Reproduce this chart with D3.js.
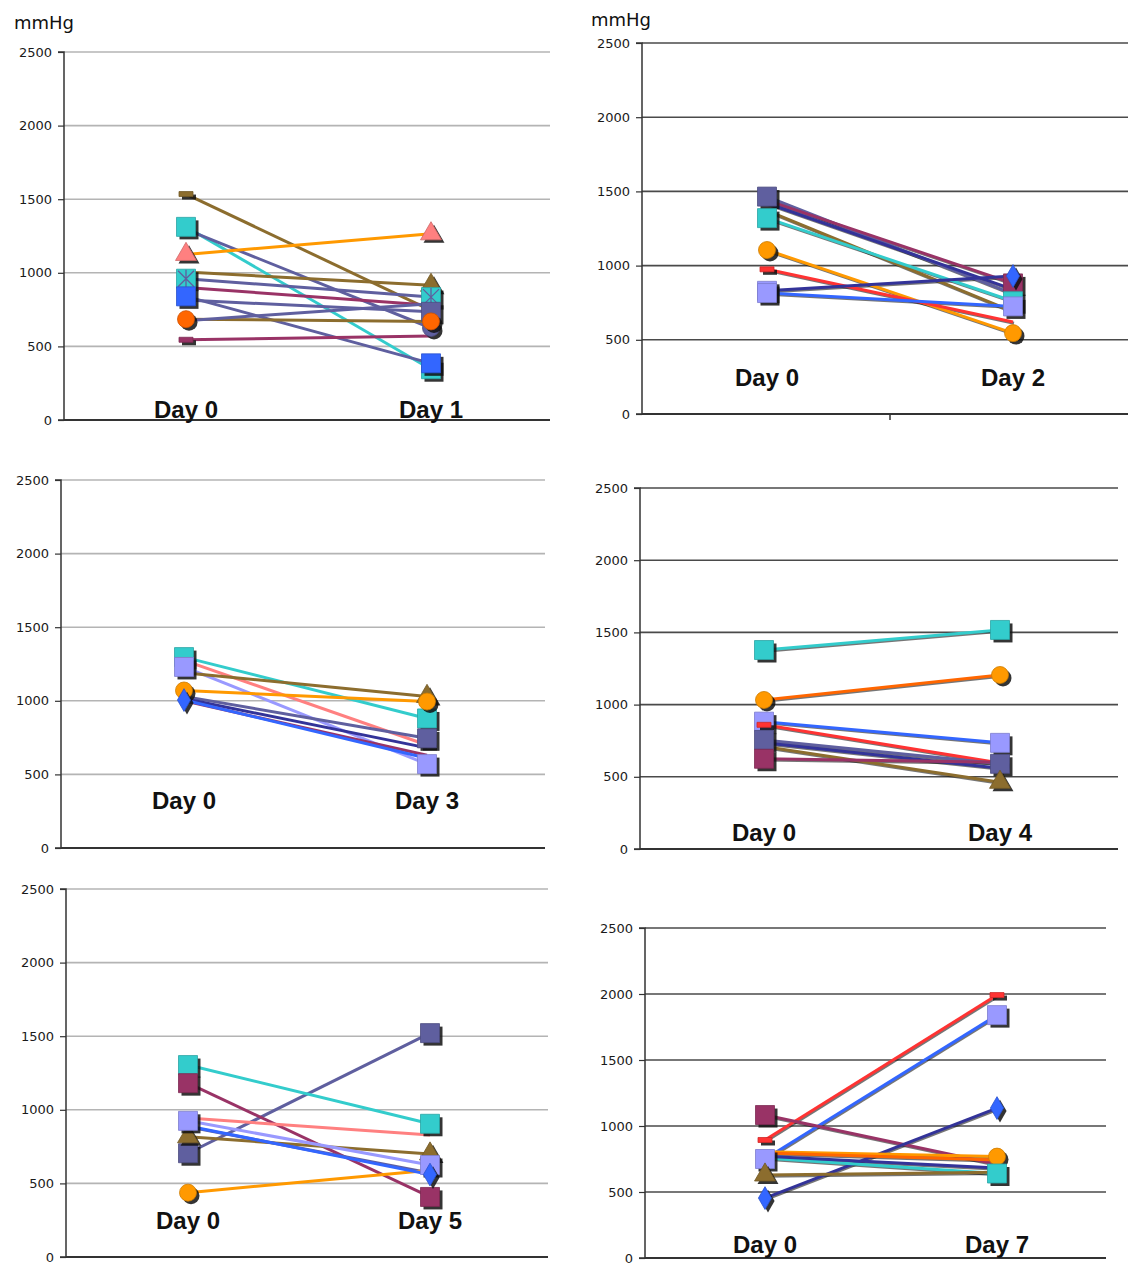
<!DOCTYPE html>
<html>
<head>
<meta charset="utf-8">
<script src="https://cdn.jsdelivr.net/npm/d3@7"></script>
<style>
  html, body { margin: 0; padding: 0; background: #fff; }
  svg { display: block; }
</style>
</head>
<body>
<div id="chart"></div>
<script>
// y axis ticks, shared by all panels
const yTicks = [0, 500, 1000, 1500, 2000, 2500];

// panel 1: Day 0 -> Day 1
const p1Days = ["Day 0", "Day 1"];
const p1Start = [1535, 1312, 1295, 1125, 1005, 960, 900, 840, 815, 685, 675, 545];
const p1End = [745, 345, 625, 1265, 915, 835, 780, 385, 735, 670, 790, 570];

// panel 2: Day 0 -> Day 2
const p2Days = ["Day 0", "Day 2"];
const p2Start = [1465, 1440, 1420, 1370, 1320, 1105, 975, 830, 815];
const p2End = [810, 880, 840, 690, 760, 545, 620, 930, 725];

// panel 3: Day 0 -> Day 3
const p3Days = ["Day 0", "Day 3"];
const p3Start = [1297, 1275, 1230, 1190, 1070, 1030, 1015, 1000, 1005];
const p3End = [880, 700, 570, 1030, 995, 745, 680, 630, 610];

// panel 4: Day 0 -> Day 4
const p4Days = ["Day 0", "Day 4"];
const p4Start = [1378, 1032, 882, 860, 755, 735, 710, 625];
const p4End = [1517, 1205, 735, 595, 590, 560, 462, 600];

// panel 5: Day 0 -> Day 5
const p5Days = ["Day 0", "Day 5"];
const p5Start = [705, 1304, 1181, 944, 817, 925, 885, 437, 890];
const p5End = [1521, 905, 408, 828, 700, 625, 570, 590, 560];

// panel 6: Day 0 -> Day 7
const p6Days = ["Day 0", "Day 7"];
const p6Start = [894, 750, 1083, 454, 805, 795, 758, 770, 629];
const p6End = [1992, 1840, 710, 1136, 768, 742, 640, 682, 650];

// series look: [line colour, start marker, start fill, end marker, end fill]
const C = {
  brown: "#8c6d2e", cyan: "#33cccc", slate: "#5f5f9f", orange: "#ff9900",
  salmon: "#ff8080", crimson: "#993366", blue: "#3366ff", periw: "#9999ff",
  red: "#ff3333", navy: "#333399", ored: "#ff6600"
};
const p1Style = [
  [C.brown, "dash", C.brown, "none"], [C.cyan, "sq", C.cyan, "sq", C.cyan],
  [C.slate, "none", null, "ci", C.slate], [C.orange, "tr", C.salmon, "tr", C.salmon],
  [C.brown, "none", null, "tr", C.brown], [C.slate, "xsq", C.cyan, "xsq", C.cyan],
  [C.crimson, "none", null, "none"], [C.slate, "sq", C.blue, "sq", C.blue],
  [C.slate, "none", null, "sq", C.slate], [C.brown, "ci", C.ored, "ci", C.ored],
  [C.slate, "none", null, "none"], [C.crimson, "dash", C.crimson, "none"]
];
const p2Style = [
  [C.slate, "sq", C.slate, "none"], [C.crimson, "none", null, "sq", C.crimson],
  [C.navy, "none", null, "none"], [C.brown, "none", null, "none"],
  [C.cyan, "sq", C.cyan, "sq", C.cyan], [C.orange, "ci", C.orange, "ci", C.orange],
  [C.red, "dash", C.red, "none"], [C.navy, "sq", C.periw, "di", C.blue],
  [C.blue, "sq", C.periw, "sq", C.periw]
];
const p3Style = [
  [C.cyan, "sq", C.cyan, "sq", C.cyan], [C.salmon, "dash", C.salmon, "dash", C.salmon],
  [C.periw, "sq", C.periw, "sq", C.periw], [C.brown, "none", null, "tr", C.brown],
  [C.orange, "ci", C.orange, "ci", C.orange], [C.slate, "none", null, "sq", C.slate],
  [C.navy, "none", null, "none"], [C.crimson, "none", null, "none"],
  [C.blue, "di", C.blue, "none"]
];
const p4Style = [
  [C.cyan, "sq", C.cyan, "sq", C.cyan], [C.ored, "ci", C.orange, "ci", C.orange],
  [C.blue, "sq", C.periw, "sq", C.periw], [C.red, "dash", C.red, "dash", C.red],
  [C.slate, "sq", C.slate, "sq", C.slate], [C.navy, "none", null, "none"],
  [C.brown, "none", null, "tr", C.brown], [C.crimson, "sq", C.crimson, "none"]
];
const p5Style = [
  [C.slate, "sq", C.slate, "sq", C.slate], [C.cyan, "sq", C.cyan, "sq", C.cyan],
  [C.crimson, "sq", C.crimson, "sq", C.crimson], [C.salmon, "dash", C.salmon, "none"],
  [C.brown, "tr", C.brown, "tr", C.brown], [C.periw, "sq", C.periw, "sq", C.periw],
  [C.slate, "none", null, "none"], [C.orange, "ci", C.orange, "none"],
  [C.blue, "none", null, "di", C.blue]
];
const p6Style = [
  [C.red, "dash", C.red, "dash", C.red], [C.blue, "sq", C.periw, "sq", C.periw],
  [C.crimson, "sq", C.crimson, "none"], [C.navy, "di", C.blue, "di", C.blue],
  [C.orange, "none", null, "ci", C.orange], [C.ored, "none", null, "none"],
  [C.cyan, "none", null, "sq", C.cyan], [C.navy, "none", null, "none"],
  [C.brown, "tr", C.brown, "none"]
];

const panels = [
  { days: p1Days, start: p1Start, end: p1End, style: p1Style,
    ax: 64, top: 52, bottom: 420, right: 550, dx: [186, 431], labelY: 418,
    grid: "#b4b4b4", unit: [14, 29], shadowLines: false },
  { days: p2Days, start: p2Start, end: p2End, style: p2Style,
    ax: 642, top: 43, bottom: 414, right: 1128, dx: [767, 1013], labelY: 386,
    grid: "#4a4a4a", unit: [591, 26], shadowLines: true, xTick: 890 },
  { days: p3Days, start: p3Start, end: p3End, style: p3Style,
    ax: 61, top: 480, bottom: 848, right: 545, dx: [184, 427], labelY: 809,
    grid: "#b4b4b4", shadowLines: false },
  { days: p4Days, start: p4Start, end: p4End, style: p4Style,
    ax: 640, top: 488, bottom: 849, right: 1118, dx: [764, 1000], labelY: 841,
    grid: "#4a4a4a", shadowLines: true },
  { days: p5Days, start: p5Start, end: p5End, style: p5Style,
    ax: 66, top: 889, bottom: 1257, right: 548, dx: [188, 430], labelY: 1229,
    grid: "#b4b4b4", shadowLines: false },
  { days: p6Days, start: p6Start, end: p6End, style: p6Style,
    ax: 645, top: 928, bottom: 1258, right: 1106, dx: [765, 997], labelY: 1253,
    grid: "#4a4a4a", shadowLines: true }
];

const svg = d3.select("#chart").append("svg")
  .attr("width", 1128).attr("height", 1264);

function markerPath(kind) {
  if (kind === "sq" || kind === "xsq") return d3.symbol(d3.symbolSquare, 19 * 19)();
  if (kind === "ci") return d3.symbol(d3.symbolCircle, Math.PI * 8.5 * 8.5)();
  if (kind === "tr") return d3.symbol(d3.symbolTriangle, 190)();
  if (kind === "di") return d3.symbol(d3.symbolDiamond, 150)();
  if (kind === "dash") return "M-7,-2.5h14v5h-14Z";
  return null;
}

panels.forEach((p) => {
  const y = d3.scaleLinear().domain([0, 2500]).range([p.bottom, p.top]);
  const x = d3.scalePoint().domain(p.days).range(p.dx);
  const g = svg.append("g");

  // grid lines
  g.append("g").selectAll("line")
    .data(yTicks.filter((t) => t > 0))
    .join("line")
    .attr("x1", p.ax).attr("x2", p.right)
    .attr("y1", (d) => y(d)).attr("y2", (d) => y(d))
    .attr("stroke", p.grid).attr("stroke-width", 1.6);

  // y axis
  const yAxis = g.append("g")
    .attr("transform", `translate(${p.ax},0)`)
    .call(d3.axisLeft(y).tickValues(yTicks).tickFormat(d3.format("d"))
      .tickSize(6).tickPadding(6));
  yAxis.select(".domain").attr("stroke", "#333").attr("stroke-width", 1.5)
    .attr("d", `M-6,${y(2500)}H0V${y(0)}H-6`);
  yAxis.selectAll(".tick line").attr("stroke", "#333").attr("stroke-width", 1.2);
  yAxis.selectAll(".tick text")
    .attr("font-family", "DejaVu Sans, sans-serif")
    .attr("font-size", 13).attr("fill", "#1a1a1a");

  // bottom axis line
  g.append("line")
    .attr("x1", p.ax).attr("x2", p.right)
    .attr("y1", y(0)).attr("y2", y(0))
    .attr("stroke", "#333").attr("stroke-width", 2);
  if (p.xTick) {
    g.append("line")
      .attr("x1", p.xTick).attr("x2", p.xTick)
      .attr("y1", y(0)).attr("y2", y(0) + 6)
      .attr("stroke", "#333").attr("stroke-width", 1.5);
  }

  if (p.unit) {
    g.append("text")
      .attr("x", p.unit[0]).attr("y", p.unit[1])
      .attr("font-family", "DejaVu Sans, sans-serif")
      .attr("font-size", 18).attr("fill", "#111")
      .text("mmHg");
  }

  // day labels
  g.append("g").selectAll("text")
    .data(p.days)
    .join("text")
    .attr("x", (d) => x(d)).attr("y", p.labelY)
    .attr("text-anchor", "middle")
    .attr("font-family", "Liberation Sans, Arial, sans-serif")
    .attr("font-weight", "bold").attr("font-size", 24).attr("fill", "#111")
    .text((d) => d);

  const series = p.start.map((v, i) => ({
    v0: v, v1: p.end[i], color: p.style[i][0],
    mk0: p.style[i][1], fill0: p.style[i][2], mk1: p.style[i][3], fill1: p.style[i][4]
  }));

  // lines
  const lines = g.append("g");
  if (p.shadowLines) {
    lines.selectAll("line.sh")
      .data(series)
      .join("line")
      .attr("class", "sh")
      .attr("x1", x(p.days[0]) + 1).attr("x2", x(p.days[1]) + 1)
      .attr("y1", (d) => y(d.v0) + 1.2).attr("y2", (d) => y(d.v1) + 1.2)
      .attr("stroke", "#1a1a1a").attr("stroke-opacity", 0.6).attr("stroke-width", 3);
  }
  lines.selectAll("line.ln")
    .data(series)
    .join("line")
    .attr("class", "ln")
    .attr("x1", x(p.days[0])).attr("x2", x(p.days[1]))
    .attr("y1", (d) => y(d.v0)).attr("y2", (d) => y(d.v1))
    .attr("stroke", (d) => d.color).attr("stroke-width", 3);

  // markers, with Excel-style drop shadow
  const pts = [];
  series.forEach((s) => {
    if (s.mk0 !== "none") pts.push({ x: x(p.days[0]), y: y(s.v0), mk: s.mk0, fill: s.fill0 });
    if (s.mk1 !== "none") pts.push({ x: x(p.days[1]), y: y(s.v1), mk: s.mk1, fill: s.fill1 });
  });
  const mk = g.append("g").selectAll("g")
    .data(pts)
    .join("g")
    .attr("transform", (d) => `translate(${d.x},${d.y})`);
  mk.append("path")
    .attr("transform", "translate(3,3)")
    .attr("d", (d) => markerPath(d.mk))
    .attr("fill", "#111").attr("fill-opacity", 0.85);
  mk.append("path")
    .attr("d", (d) => markerPath(d.mk))
    .attr("fill", (d) => d.fill)
    .attr("stroke", (d) => d3.color(d.fill).darker(0.6))
    .attr("stroke-width", 0.8);
  mk.filter((d) => d.mk === "xsq")
    .append("path")
    .attr("d", "M-8,-8L8,8M8,-8L-8,8M0,-9V9")
    .attr("stroke", "#5f5f9f").attr("stroke-width", 1.3);
});
</script>
</body>
</html>
